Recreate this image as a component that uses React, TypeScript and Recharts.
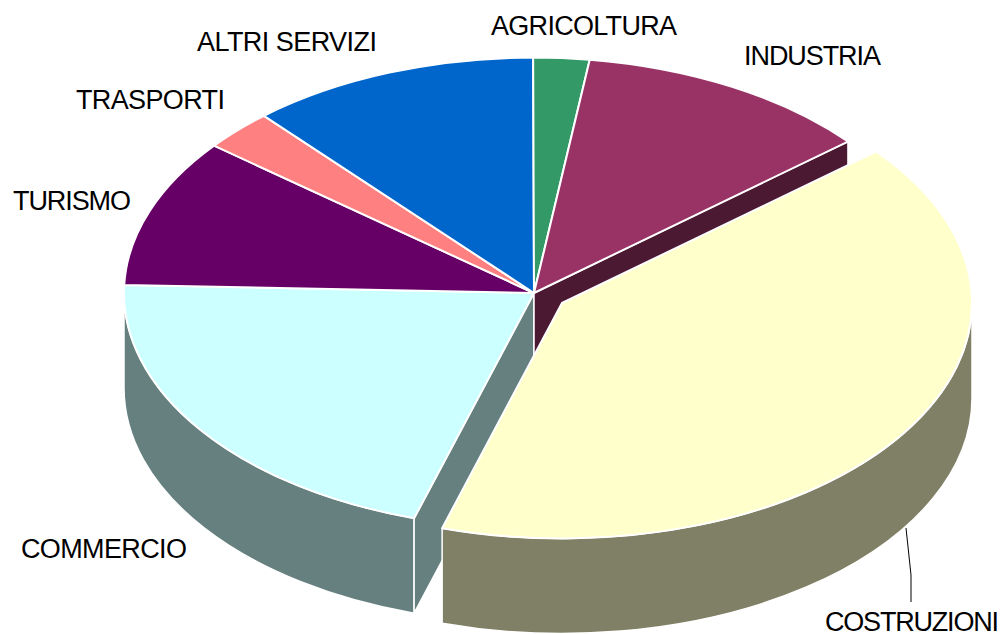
import { Pie, PieChart } from 'recharts'

// clockwise, beginning at the slice right after the exploded one so that it is painted last
const sectors = ['COMMERCIO', 'TURISMO', 'TRASPORTI', 'ALTRI SERVIZI', 'AGRICOLTURA', 'INDUSTRIA', 'COSTRUZIONI']
const shares = [20.8, 10.2, 2.8, 11.4, 2.2, 11.7, 40.8]
const colors = ['#CCFFFF', '#660066', '#FF8080', '#0066CC', '#339966', '#993366', '#FFFFCC']
const sideColors = ['#668080', '#330033', '#804040', '#003366', '#194C33', '#4C1933', '#808066']

const data = sectors.map((name, i) => ({ name, value: shares[i], fill: colors[i], side: sideColors[i] }))

const EXPLODED = 'COSTRUZIONI'
const TILT = 0.5744
const DEPTH = 95
const SHIFT = [28, 10]

// x, baseline y, text width
const labelSpots: Record<string, [number, number, number]> = {
  COMMERCIO: [21, 558, 166],
  TURISMO: [13, 210, 118],
  TRASPORTI: [76, 109, 149],
  'ALTRI SERVIZI': [197, 51, 180],
  AGRICOLTURA: [491, 35, 186],
  INDUSTRIA: [744, 65, 137],
  COSTRUZIONI: [825, 631, 174],
}

const toRad = (deg: number) => (deg * Math.PI) / 180

function PieSlice(props: any) {
  const { cx, cy, outerRadius: r, startAngle, endAngle, fill, name, side } = props
  const hit = name === EXPLODED
  const ox = cx + (hit ? SHIFT[0] : 0)
  const oy = cy + (hit ? SHIFT[1] : 0)
  const ry = r * TILT
  const at = (deg: number, drop = 0) => [ox + r * Math.cos(toRad(deg)), oy - ry * Math.sin(toRad(deg)) + drop]
  const arc = (from: number, to: number, drop = 0) => {
    const [x, y] = at(to, drop)
    return `A${r} ${ry} 0 ${Math.abs(from - to) > 180 ? 1 : 0} ${from > to ? 1 : 0} ${x} ${y}`
  }

  const idx = sectors.indexOf(name)
  const prev = sectors[(idx + sectors.length - 1) % sectors.length]
  const next = sectors[(idx + 1) % sectors.length]

  // outer wall only shows along the front half of the ellipse
  const walls: string[] = []
  for (const [hi, lo] of [[0, -180], [-360, -540]]) {
    const a = Math.min(startAngle, hi)
    const b = Math.max(endAngle, lo)
    if (a > b) {
      const [x1, y1] = at(a)
      const [x2, y2] = at(b, DEPTH)
      walls.push(`M${x1} ${y1}${arc(a, b)}L${x2} ${y2}${arc(b, a, DEPTH)}Z`)
    }
  }
  const cut = (deg: number) => {
    const [x, y] = at(deg)
    return `M${ox} ${oy}L${x} ${y}L${x} ${y + DEPTH}L${ox} ${oy + DEPTH}Z`
  }
  if (prev === EXPLODED) walls.push(cut(startAngle))
  if (next === EXPLODED) walls.push(cut(endAngle))

  const [sx, sy] = at(startAngle)
  return (
    <g>
      {walls.map((d) => (
        <path key={d} d={d} fill={side} stroke="#fff" strokeWidth={1.5} strokeLinejoin="round" />
      ))}
      <path
        d={`M${ox} ${oy}L${sx} ${sy}${arc(startAngle, endAngle)}Z`}
        fill={fill}
        stroke="#fff"
        strokeWidth={2}
        strokeLinejoin="round"
      />
    </g>
  )
}

function SliceLabel({ name }: any) {
  const [x, y, w] = labelSpots[name]
  return (
    <g>
      {name === EXPLODED && <path d="M906 528L911 575L911 602" fill="none" stroke="#000" strokeWidth={1} />}
      <text x={x} y={y} fontFamily="Liberation Sans" fontSize={27} textLength={w} lengthAdjust="spacing" fill="#000">
        {name}
      </text>
    </g>
  )
}

export default function App() {
  return (
    <div style={{ position: 'absolute', left: 0, top: 0, width: 1002, height: 634, background: '#fff', overflow: 'hidden' }}>
      <PieChart width={1002} height={634} margin={{ top: 0, right: 0, bottom: 0, left: 0 }}>
        <Pie
          data={data}
          dataKey="value"
          nameKey="name"
          cx={534}
          cy={293}
          outerRadius={410}
          startAngle={-107}
          endAngle={-467}
          stroke="none"
          shape={PieSlice}
          label={SliceLabel}
          labelLine={false}
          isAnimationActive={false}
        />
      </PieChart>
    </div>
  )
}
